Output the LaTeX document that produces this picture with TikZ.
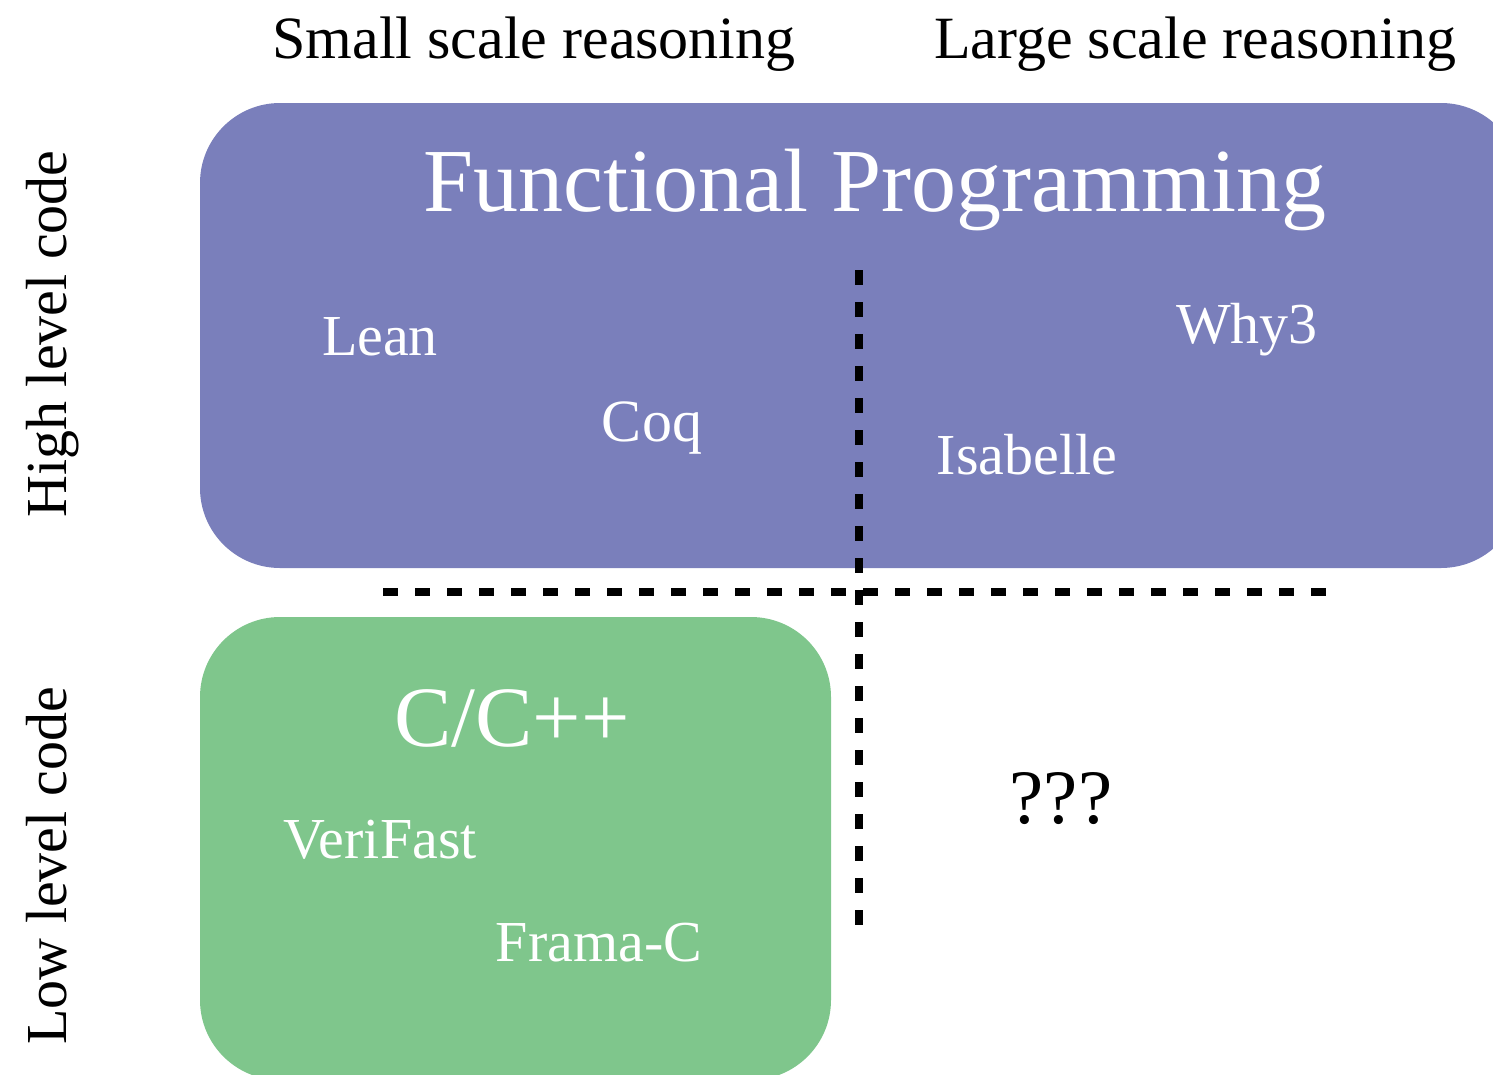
\documentclass[tikz,border=0pt]{standalone}
\usepackage{fontspec}
\setmainfont{Liberation Serif}
\definecolor{fpblue}{HTML}{7A7FBB}
\definecolor{cgreen}{HTML}{7FC68C}
\begin{document}
\begin{tikzpicture}[x=1pt,y=-1pt,
  lbl/.style={anchor=base, inner sep=0pt, font=\fontsize{58}{60}\selectfont},
  head/.style={anchor=base, inner sep=0pt, font=\fontsize{60}{62}\selectfont},
  wlbl/.style={lbl, text=white},
  big/.style={anchor=base, inner sep=0pt, text=white},
  divider/.style={line width=8pt, dash pattern=on 15pt off 17pt, black}]
\useasboundingbox (0,0) rectangle (1493,1074);
\clip (0,0) rectangle (1493,1074);
% boxes
\fill[fpblue, rounded corners=80pt] (200,103) rectangle (1521,568);
\fill[cgreen, rounded corners=80pt] (200,617) rectangle (831,1080);
% dividers
\coordinate (vtop) at (859,270);
\coordinate (vbot) at (859,926);
\coordinate (hleft) at (383,592);
\coordinate (hright) at (1330,592);
\draw[divider] (vtop) -- (vbot);
\draw[divider] (hleft) -- (hright);
% headings
\node[head] (small) at (534,58) {Small scale reasoning};
\node[head] (large) at (1195,58) {Large scale reasoning};
\node[lbl, rotate=90] (high) at (66,334) {High level code};
\node[lbl, rotate=90] (low) at (66,866) {Low level code};
% functional programming
\node[big, font=\fontsize{90}{92}\selectfont] (fp) at (875,211) {Functional Programming};
\node[wlbl] (lean) at (380,355) {Lean};
\node[wlbl, font=\fontsize{60}{62}\selectfont] (coq) at (652,441) {Coq};
\node[wlbl] (why) at (1247,343) {Why3};
\node[wlbl] (isa) at (1027,474) {Isabelle};
% C/C++
\node[big, font=\fontsize{86}{88}\selectfont] (cpp) at (512,746) {C/C++};
\node[wlbl] (verifast) at (380,858) {VeriFast};
\node[wlbl] (frama) at (599,961) {Frama-C};
% unknown
\node[anchor=base, inner sep=0pt, font=\fontsize{77}{80}\selectfont] (unk) at (1061,823) {???};
\end{tikzpicture}
\end{document}
